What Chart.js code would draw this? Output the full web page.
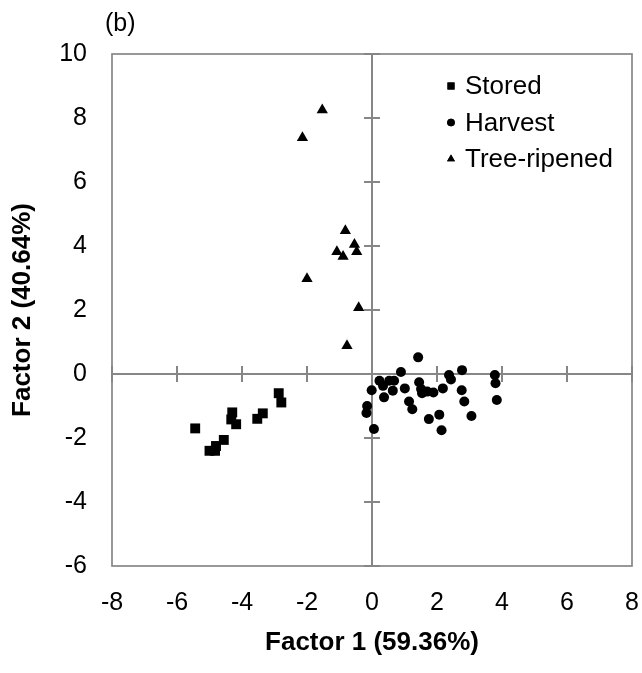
<!DOCTYPE html>
<html>
<head>
<meta charset="utf-8">
<script src="https://cdn.jsdelivr.net/npm/chart.js@4/dist/chart.umd.min.js"></script>
<style>
  html, body { margin: 0; padding: 0; background: #fff; }
  #wrap { width: 642px; height: 673px; }
</style>
</head>
<body>
<div id="wrap"><canvas id="chart"></canvas></div>
<script>
// PCA scores (Factor 1, Factor 2)
const storedX = [-5.44, -5.00, -4.80, -4.83, -4.56, -4.30, -4.33, -4.18, -3.53, -3.36, -2.87, -2.79];
const storedY = [-1.70, -2.40, -2.25, -2.40, -2.06, -1.20, -1.42, -1.57, -1.40, -1.23, -0.60, -0.89];

const harvestX = [1.42, 0.89, 0.23, 0.53, 0.68, 0.34, -0.01, 0.64, 0.37, -0.15, -0.17, 0.06,
    1.01, 1.45, 1.51, 1.54, 1.70, 1.89, 2.18, 1.14, 1.24, 1.75, 2.07, 2.14,
    2.37, 2.43, 2.77, 2.76, 2.84, 3.06, 3.78, 3.80, 3.84, 1.58];
const harvestY = [0.52, 0.06, -0.21, -0.21, -0.21, -0.37, -0.51, -0.52, -0.73, -1.00, -1.22, -1.72,
    -0.45, -0.26, -0.47, -0.60, -0.55, -0.58, -0.45, -0.86, -1.10, -1.41, -1.27, -1.76,
    -0.03, -0.17, 0.12, -0.51, -0.86, -1.31, -0.03, -0.29, -0.81, -0.55];

const treeX = [-1.53, -2.14, -0.82, -0.54, -1.08, -0.89, -0.47, -2.00, -0.41, -0.77];
const treeY = [8.25, 7.38, 4.48, 4.05, 3.82, 3.67, 3.82, 2.98, 2.07, 0.88];

const xTicks = [-8, -6, -4, -2, 0, 2, 4, 6, 8];
const yTicks = [-6, -4, -2, 0, 2, 4, 6, 8, 10];

const FONT = "'Liberation Sans', Arial, sans-serif";
const AXIS_GREY = "#868686";

function pts(xs, ys) {
    return xs.map((x, i) => ({ x: x, y: ys[i] }));
}

// frame, zero cross-lines with cross tick marks, the "(b)" tag and the in-plot legend
const decor = {
    id: "decor",
    beforeDatasetsDraw(chart) {
        const { ctx, chartArea: a, scales } = chart;
        const x0 = scales.x.getPixelForValue(0);
        const y0 = scales.y.getPixelForValue(0);
        ctx.save();
        ctx.strokeStyle = AXIS_GREY;
        ctx.lineWidth = 2;
        ctx.beginPath();
        ctx.moveTo(x0, a.top);
        ctx.lineTo(x0, a.bottom);
        ctx.moveTo(a.left, y0);
        ctx.lineTo(a.right, y0);
        yTicks.forEach(v => {
            const p = scales.y.getPixelForValue(v);
            ctx.moveTo(x0 - 8, p);
            ctx.lineTo(x0 + 8, p);
        });
        xTicks.forEach(v => {
            const p = scales.x.getPixelForValue(v);
            ctx.moveTo(p, y0 - 8);
            ctx.lineTo(p, y0 + 8);
        });
        ctx.stroke();
        ctx.lineWidth = 1.7;
        ctx.strokeRect(a.left, a.top, a.right - a.left, a.bottom - a.top);
        ctx.restore();
    },
    afterDraw(chart) {
        const { ctx, chartArea: a } = chart;
        ctx.save();
        ctx.fillStyle = "#000";
        ctx.font = "25px " + FONT;
        ctx.textBaseline = "middle";
        ctx.textAlign = "left";
        ctx.fillText("(b)", a.left - 7, a.top - 30);

        ctx.font = "26px " + FONT;
        const legendSizes = [5, 3.8, 4.6];
        chart.data.datasets.forEach((ds, i) => {
            const y = a.top + 32 + i * 36.5;
            const mx = a.left + 339;
            Chart.helpers.drawPoint(ctx, {
                pointStyle: ds.pointStyle,
                radius: legendSizes[i],
                rotation: 0,
                borderWidth: 0
            }, mx, y);
            ctx.fillStyle = "#000";
            ctx.fill();
            ctx.fillText(ds.label, mx + 14, y + 1);
        });
        ctx.restore();
    }
};

new Chart(document.getElementById("chart"), {
    type: "scatter",
    data: {
        datasets: [
            {
                label: "Stored",
                data: pts(storedX, storedY),
                pointStyle: "rect",
                pointRadius: 7,
                backgroundColor: "#000",
                borderColor: "#000",
                borderWidth: 0
            },
            {
                label: "Harvest",
                data: pts(harvestX, harvestY),
                pointStyle: "circle",
                pointRadius: 5,
                backgroundColor: "#000",
                borderColor: "#000",
                borderWidth: 0
            },
            {
                label: "Tree-ripened",
                data: pts(treeX, treeY),
                pointStyle: "triangle",
                pointRadius: 6.5,
                backgroundColor: "#000",
                borderColor: "#000",
                borderWidth: 0
            }
        ]
    },
    options: {
        responsive: true,
        maintainAspectRatio: false,
        animation: false,
        layout: { padding: { top: 54, right: 10, left: 0, bottom: 0 } },
        plugins: {
            legend: { display: false },
            tooltip: { enabled: false }
        },
        scales: {
            x: {
                type: "linear",
                min: -8,
                max: 8,
                afterBuildTicks(scale) {
                    scale.ticks = xTicks.map(v => ({ value: v }));
                },
                afterFit(scale) {
                    scale.height = 107;
                    scale.paddingLeft = 0;
                    scale.paddingRight = 0;
                },
                grid: { display: false },
                border: { display: false },
                ticks: {
                    color: "#000",
                    padding: 14,
                    font: { family: FONT, size: 25 }
                },
                title: {
                    display: true,
                    text: "Factor 1 (59.36%)",
                    color: "#000",
                    padding: { top: 15, bottom: 15 },
                    font: { family: FONT, size: 26, weight: "bold" }
                }
            },
            y: {
                type: "linear",
                min: -6,
                max: 10,
                afterBuildTicks(scale) {
                    scale.ticks = yTicks.map(v => ({ value: v }));
                },
                afterFit(scale) {
                    scale.width = 112;
                    scale.paddingTop = 0;
                    scale.paddingBottom = 0;
                },
                grid: { display: false },
                border: { display: false },
                ticks: {
                    color: "#000",
                    padding: 17,
                    font: { family: FONT, size: 25 }
                },
                title: {
                    display: true,
                    text: "Factor 2 (40.64%)",
                    color: "#000",
                    padding: { top: 7, bottom: 7 },
                    font: { family: FONT, size: 26, weight: "bold" }
                }
            }
        }
    },
    plugins: [decor]
});
</script>
</body>
</html>
